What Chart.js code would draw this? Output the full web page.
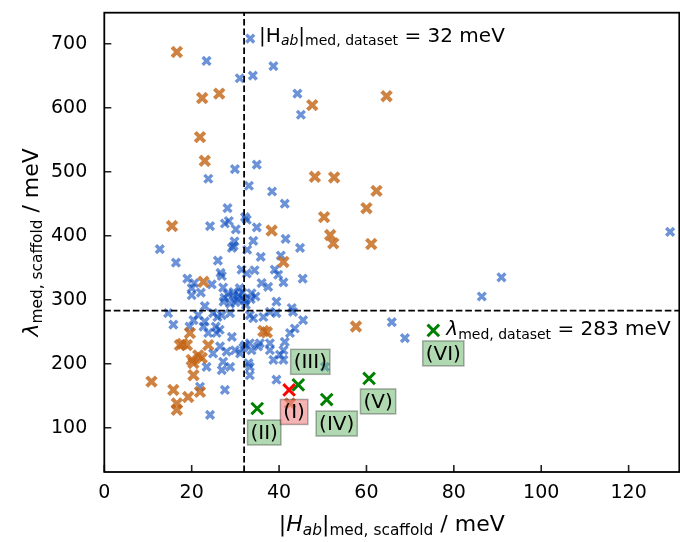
<!DOCTYPE html>
<html>
<head>
<meta charset="utf-8">
<script src="https://cdn.jsdelivr.net/npm/chart.js@4/dist/chart.umd.min.js"></script>
<style>
  html, body { margin: 0; padding: 0; background: #fff; }
</style>
</head>
<body>
<canvas id="c" width="680" height="542"></canvas>
<script>
// scaffolds of the dataset (blue), second group (orange) and the marked systems
const blueX = [33.4, 23.4, 31, 34, 38.7, 44.2, 45, 29.9, 34.9, 23.8,
  33.1, 38.4, 41.3, 28.2, 32.2, 32.6, 27.6, 28.5, 24.2, 34.9,
  30.1, 41.5, 34.1, 29.8, 29.2, 29.6, 32.7, 44.8, 12.7, 40.4,
  35.8, 26, 16.4, 31.4, 34.4, 26.6, 26.9, 39, 39.8, 45.4,
  19, 20.6, 24.6, 27.2, 20, 22.1, 20, 36, 37.5, 41,
  30.8, 33.7, 39.4, 42.9, 23, 31.6, 28.8, 30, 32.6, 37.9,
  45.5, 43.6, 42.5, 36.4, 33.3, 26.9, 24.9, 20.4, 15.8, 22.7,
  25.7, 29.2, 33.3, 35.6, 29.9, 28, 31.1, 33.7, 38.7, 40.2,
  37.9, 27.2, 33, 26.5, 41.3, 14.6, 23, 25.9, 28.8, 39.4,
  43.2, 23.8, 35.2, 37.9, 41, 24.9, 23.4, 26.9, 28.8, 33.3,
  33.3, 41, 39.4, 27.6, 21.9, 24.2, 65.8, 68.8, 34.1, 50.5,
  32.2, 86.4, 90.9, 129.5, 30.5, 31.8, 29.5, 32.2, 27.5, 21.5,
  19.5, 31.8, 29.6, 31, 27.3, 28.2, 33.5, 34.6, 32.4, 25.5, 26.4];
const blueY = [708, 673, 646, 650, 665, 622, 589, 504, 511, 489,
  478, 469, 450, 443, 429, 425, 419, 423, 415, 413,
  410, 395, 392, 391, 381, 384, 378, 381, 379, 369,
  367, 361, 358, 347, 346, 342, 337, 347, 339, 333,
  333, 326, 324, 319, 318, 311, 307, 326, 320, 327,
  307, 310, 297, 287, 290, 311, 294, 296, 341, 281,
  268, 255, 248, 273, 276, 276, 279, 268, 261, 258,
  248, 242, 232, 232, 221, 219, 216, 221, 206, 214,
  221, 203, 201, 227, 234, 279, 266, 273, 279, 279,
  281, 248, 227, 232, 221, 216, 195, 190, 195, 195,
  182, 206, 175, 159, 164, 120, 265, 240, 271, 195,
  229, 305, 335, 406, 300, 302, 306, 298, 303, 276,
  258, 225, 312, 318, 297, 309, 301, 305, 292, 258, 253];

const orangeX = [16.6, 22.4, 26.3, 21.9, 23, 15.5, 38.3, 41, 22.7, 64.6,
  47.6, 48.2, 52.6, 62.3, 60, 50.3, 51.7, 52.4, 61.1, 57.6,
  36.4, 37.2, 19.6, 17.3, 18.9, 17.9, 23.8, 20, 22.3, 21.5,
  20.4, 10.8, 15.8, 19.2, 21.9, 16.6, 16.6, 42.5, 20.4];
const orangeY = [687, 615, 622, 554, 517, 415, 408, 359, 328, 618,
  604, 492, 491, 470, 443, 429, 401, 388, 387, 258,
  251, 249, 248, 229, 229, 231, 229, 206, 209, 213,
  182, 172, 159, 148, 156, 138, 128, 138, 201];

const markedNames = ['(II)', '(I)', '(III)', '(IV)', '(V)', '(VI)'];
const markedX = [35, 42.3, 44.4, 50.9, 60.6, 75.3];
const markedY = [130, 159, 167, 144, 177, 252];
const highlighted = '(I)';

const medianH = 32;    // |Hab| med, dataset
const medianL = 283;   // lambda med, dataset

const xTicks = [0, 20, 40, 60, 80, 100, 120];
const yTicks = [100, 200, 300, 400, 500, 600, 700];

const FAM = '"DejaVu Sans"';
const pts = (xs, ys) => xs.map((v, i) => ({ x: v, y: ys[i] }));

// draws text made of [text, italic, subscript] pieces
function rich(ctx, parts, size, x, y, align) {
  const fonts = parts.map(p => (p[1] ? 'italic ' : '') + (p[2] ? size * 0.7 : size) + 'px ' + FAM);
  const ws = parts.map((p, i) => { ctx.font = fonts[i]; return ctx.measureText(p[0]).width; });
  const total = ws.reduce((a, b) => a + b, 0);
  let cx = align === 'center' ? x - total / 2 : x;
  ctx.textAlign = 'left';
  ctx.textBaseline = 'alphabetic';
  parts.forEach((p, i) => {
    ctx.font = fonts[i];
    ctx.fillText(p[0], cx, y + (p[2] ? size * 0.18 : 0));
    cx += ws[i];
  });
}

// where each tag box sits relative to its point, in pixels
const tagOffsets = [[7, 24], [5, 22], [12, -23], [10, 24], [9, 23], [10, 23]];

const decor = {
  id: 'decor',
  afterDatasetsDraw(chart) {
    const { ctx, chartArea: a, scales: { x, y } } = chart;
    ctx.save();
    const px = x.getPixelForValue(medianH), py = y.getPixelForValue(medianL);
    ctx.strokeStyle = '#000';
    ctx.lineWidth = 1.8;
    ctx.setLineDash([6.6, 2.9]);
    ctx.beginPath();
    ctx.moveTo(px, a.bottom); ctx.lineTo(px, a.top);
    ctx.moveTo(a.left, py); ctx.lineTo(a.right, py);
    ctx.stroke();
    ctx.setLineDash([]);

    ctx.fillStyle = '#000';
    rich(ctx, [['|H', false, false], ['ab', true, true], ['|', false, false],
      ['med, dataset', false, true], [' = 32 meV', false, false]], 20, px + 15, a.top + 29, 'left');

    const vx = x.getPixelForValue(markedX[5]), vy = y.getPixelForValue(markedY[5]);
    rich(ctx, [['λ', true, false], ['med, dataset', false, true], [' = 283 meV', false, false]],
      20, vx + 13, vy + 5, 'left');

    markedNames.forEach((name, i) => {
      const cx = x.getPixelForValue(markedX[i]) + tagOffsets[i][0];
      const cy = y.getPixelForValue(markedY[i]) + tagOffsets[i][1];
      ctx.font = '20px ' + FAM;
      const w = ctx.measureText(name).width + 6, h = 25;
      ctx.fillStyle = name === highlighted ? 'rgba(240,128,128,0.6)' : 'rgba(100,180,100,0.5)';
      ctx.fillRect(cx - w / 2, cy - h / 2, w, h);
      ctx.strokeStyle = 'rgba(0,0,0,0.3)';
      ctx.lineWidth = 1.5;
      ctx.strokeRect(cx - w / 2, cy - h / 2, w, h);
      ctx.fillStyle = '#000';
      ctx.textAlign = 'center';
      ctx.textBaseline = 'middle';
      ctx.fillText(name, cx, cy + 1);
    });
    ctx.restore();
  },
  afterDraw(chart) {
    const { ctx, chartArea: a, scales: { x, y } } = chart;
    ctx.save();
    ctx.strokeStyle = '#222';
    ctx.lineWidth = 1.6;
    ctx.beginPath();
    xTicks.forEach(v => { const p = x.getPixelForValue(v); ctx.moveTo(p, a.bottom); ctx.lineTo(p, a.bottom - 7); });
    yTicks.forEach(v => { const p = y.getPixelForValue(v); ctx.moveTo(a.left, p); ctx.lineTo(a.left + 7, p); });
    ctx.stroke();
    ctx.strokeStyle = '#000';
    ctx.lineWidth = 1.8;
    ctx.strokeRect(a.left, a.top, a.right - a.left, a.bottom - a.top);

    ctx.fillStyle = '#000';
    rich(ctx, [['|', false, false], ['H', true, false], ['ab', true, true], ['|', false, false],
      ['med, scaffold', false, true], [' / meV', false, false]], 22, (a.left + a.right) / 2, 531, 'center');
    ctx.translate(38, (a.top + a.bottom) / 2);
    ctx.rotate(-Math.PI / 2);
    rich(ctx, [['λ', true, false], ['med, scaffold', false, true], [' / meV', false, false]], 22, 0, 0, 'center');
    ctx.restore();
  }
};

const tickFont = { family: 'DejaVu Sans', size: 19 };
const noPad = s => { s.paddingLeft = 0; s.paddingRight = 0; s.paddingTop = 0; s.paddingBottom = 0; };

new Chart(document.getElementById('c'), {
  type: 'scatter',
  data: {
    datasets: [
      { data: pts(markedX.slice(1, 2), markedY.slice(1, 2)), order: 1, pointStyle: 'crossRot',
        pointRadius: 8.2, pointBorderWidth: 3, borderColor: '#ff0000', backgroundColor: '#ff0000' },
      { data: pts(markedX.filter((v, i) => markedNames[i] !== highlighted), markedY.filter((v, i) => markedNames[i] !== highlighted)),
        order: 2, pointStyle: 'crossRot', pointRadius: 8.2, pointBorderWidth: 3, borderColor: '#008000', backgroundColor: '#008000' },
      { data: pts(orangeX, orangeY), order: 3, pointStyle: 'crossRot',
        pointRadius: 6.8, pointBorderWidth: 4, borderColor: 'rgba(195,100,20,0.8)', backgroundColor: 'rgba(195,100,20,0.8)' },
      { data: pts(blueX, blueY), order: 4, pointStyle: 'crossRot',
        pointRadius: 5.5, pointBorderWidth: 3.4, borderColor: 'rgba(10,75,190,0.6)', backgroundColor: 'rgba(10,75,190,0.6)' }
    ]
  },
  options: {
    responsive: false,
    animation: false,
    events: [],
    layout: { autoPadding: false, padding: { top: 12.7, right: 0.7, left: 0, bottom: 0 } },
    plugins: { legend: { display: false }, tooltip: { enabled: false } },
    scales: {
      x: {
        type: 'linear', min: 0, max: 131.6,
        afterBuildTicks: s => { s.ticks = xTicks.map(v => ({ value: v })); },
        afterFit: s => { s.height = 70; noPad(s); },
        grid: { display: false, drawTicks: false },
        border: { display: false },
        ticks: { padding: 10, color: '#000', font: tickFont, autoSkip: false, maxRotation: 0 }
      },
      y: {
        type: 'linear', min: 30.8, max: 748.4,
        afterBuildTicks: s => { s.ticks = yTicks.map(v => ({ value: v })); },
        afterFit: s => { s.width = 104.3; noPad(s); },
        grid: { display: false, drawTicks: false },
        border: { display: false },
        ticks: { padding: 17, color: '#000', font: tickFont, autoSkip: false }
      }
    }
  },
  plugins: [decor]
});
</script>
</body>
</html>
